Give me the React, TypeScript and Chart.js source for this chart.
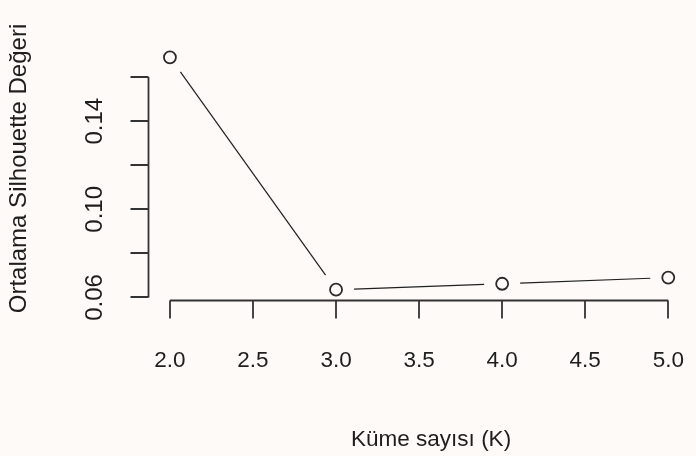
import React, { useEffect, useRef } from "react";
import { Chart, registerables } from "chart.js";

Chart.register(...registerables);

// ---- data ----
const kValues = [2, 3, 4, 5];
const silhouette = [0.169, 0.0635, 0.0662, 0.069];
const xTicks = [2, 2.5, 3, 3.5, 4, 4.5, 5];
const xTickLabels = ["2.0", "2.5", "3.0", "3.5", "4.0", "4.5", "5.0"];
const yTicks = [0.06, 0.08, 0.1, 0.12, 0.14, 0.16];
const yTickLabels = ["0.06", "", "0.10", "", "0.14", ""];
const xTitle = "Küme sayısı (K)";
const yTitle = "Ortalama Silhouette Değeri";

const BG = "#fdfaf7";
const INK = "#1e1e1e";
const AXIS = "#333333";
const HFONT = "22.5px 'Liberation Sans', Arial, sans-serif";
const VFONT = "24px 'Liberation Sans', Arial, sans-serif";

function rRange(vals: number[]) {
  const lo = Math.min(...vals);
  const hi = Math.max(...vals);
  const pad = (hi - lo) * 0.04;
  return [lo - pad, hi + pad];
}

const rAxesPlugin = {
  id: "rAxes",
  beforeDraw(chart: any) {
    const { ctx, width, height } = chart;
    ctx.save();
    ctx.fillStyle = BG;
    ctx.fillRect(0, 0, width, height);
    ctx.restore();
  },
  beforeDatasetsDraw(chart: any) {
    // type = "b" line segments with gaps around the points
    const { ctx } = chart;
    const pts = chart.getDatasetMeta(0).data;
    const gap = 18;
    ctx.save();
    ctx.strokeStyle = "#202020";
    ctx.lineWidth = 1.2;
    for (let i = 0; i < pts.length - 1; i++) {
      const a = pts[i];
      const b = pts[i + 1];
      const dx = b.x - a.x;
      const dy = b.y - a.y;
      const len = Math.hypot(dx, dy);
      if (len <= 2 * gap) continue;
      const ux = dx / len;
      const uy = dy / len;
      ctx.beginPath();
      ctx.moveTo(a.x + ux * gap, a.y + uy * gap);
      ctx.lineTo(b.x - ux * gap, b.y - uy * gap);
      ctx.stroke();
    }
    ctx.restore();
  },
  afterDraw(chart: any) {
    const { ctx, chartArea } = chart;
    const xs = chart.scales.x;
    const ys = chart.scales.y;
    const tickLen = 18;
    ctx.save();
    ctx.strokeStyle = AXIS;
    ctx.lineWidth = 1.8;
    ctx.fillStyle = INK;
    ctx.font = HFONT;

    // x axis
    const xAxisY = chartArea.bottom + 1.5;
    ctx.beginPath();
    ctx.moveTo(xs.getPixelForValue(xTicks[0]), xAxisY);
    ctx.lineTo(xs.getPixelForValue(xTicks[xTicks.length - 1]), xAxisY);
    xTicks.forEach((v) => {
      const px = Math.round(xs.getPixelForValue(v));
      ctx.moveTo(px, xAxisY);
      ctx.lineTo(px, xAxisY + tickLen);
    });
    ctx.stroke();
    ctx.textAlign = "center";
    ctx.textBaseline = "middle";
    xTicks.forEach((v, i) => {
      ctx.fillText(xTickLabels[i], xs.getPixelForValue(v), xAxisY + 60);
    });

    // y axis
    const yAxisX = chartArea.left - 1.5;
    ctx.beginPath();
    ctx.moveTo(yAxisX, ys.getPixelForValue(yTicks[0]));
    ctx.lineTo(yAxisX, ys.getPixelForValue(yTicks[yTicks.length - 1]));
    yTicks.forEach((v) => {
      const py = Math.round(ys.getPixelForValue(v));
      ctx.moveTo(yAxisX, py);
      ctx.lineTo(yAxisX - tickLen, py);
    });
    ctx.stroke();
    ctx.font = VFONT;
    yTicks.forEach((v, i) => {
      if (!yTickLabels[i]) return;
      ctx.save();
      ctx.translate(yAxisX - 53, ys.getPixelForValue(v));
      ctx.rotate(-Math.PI / 2);
      ctx.fillText(yTickLabels[i], 0, 0);
      ctx.restore();
    });

    // titles
    ctx.save();
    ctx.translate(19, (chartArea.top + chartArea.bottom) / 2 - 5);
    ctx.rotate(-Math.PI / 2);
    ctx.fillText(yTitle, 0, 0);
    ctx.restore();
    ctx.font = HFONT;
    ctx.fillText(xTitle, (chartArea.left + chartArea.right) / 2 + 12, chartArea.bottom + 141);
    ctx.restore();
  },
};

export default function App() {
  const ref = useRef<HTMLCanvasElement | null>(null);
  useEffect(() => {
    if (!ref.current) return;
    const [xmin, xmax] = rRange(kValues);
    const [ymin, ymax] = rRange(silhouette);
    const chart = new Chart(ref.current, {
      type: "line",
      data: {
        labels: kValues,
        datasets: [
          {
            data: kValues.map((k, i) => ({ x: k, y: silhouette[i] })),
            showLine: false,
            pointStyle: "circle",
            pointRadius: 6,
            pointBorderWidth: 1.8,
            pointBorderColor: "#2a2a2a",
            pointBackgroundColor: "rgba(0,0,0,0)",
          },
        ],
      },
      options: {
        animation: false,
        responsive: false,
        events: [],
        layout: { padding: { left: 150, right: 3, top: 48, bottom: 157 } },
        plugins: { legend: { display: false }, tooltip: { enabled: false } },
        scales: {
          x: { type: "linear", display: false, min: xmin, max: xmax },
          y: { type: "linear", display: false, min: ymin, max: ymax },
        },
      },
      plugins: [rAxesPlugin],
    });
    return () => chart.destroy();
  }, []);
  return (
    <div style={{ position: "fixed", left: 0, top: 0, width: 696, height: 456, background: BG }}>
      <canvas ref={ref} width={696} height={456} style={{ display: "block" }} />
    </div>
  );
}
